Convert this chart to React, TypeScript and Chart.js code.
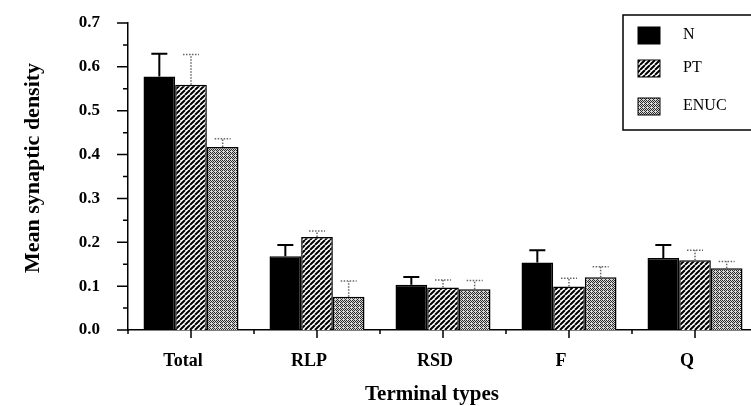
import React, { useEffect, useRef } from "react";
import { Chart, registerables } from "chart.js";

Chart.register(...registerables);

const categories = ["Total", "RLP", "RSD", "F", "Q"];
const seriesNames = ["N", "PT", "ENUC"];
const nValues = [0.578, 0.168, 0.103, 0.154, 0.164];
const nErrors = [0.052, 0.026, 0.018, 0.028, 0.030];
const ptValues = [0.559, 0.212, 0.097, 0.099, 0.159];
const ptErrors = [0.069, 0.014, 0.017, 0.019, 0.023];
const enucValues = [0.417, 0.076, 0.093, 0.120, 0.141];
const enucErrors = [0.019, 0.036, 0.020, 0.024, 0.015];
const yTickMax = 0.7;
const yTitle = "Mean synaptic density";
const xTitle = "Terminal types";

const SERIF = "'Liberation Serif', 'DejaVu Serif', 'Times New Roman', serif";

function makeHatch(): CanvasPattern | string {
  const c = document.createElement("canvas");
  const s = 5;
  c.width = s;
  c.height = s;
  const g = c.getContext("2d");
  if (!g) return "#777";
  g.fillStyle = "#fff";
  g.fillRect(0, 0, s, s);
  g.strokeStyle = "#000";
  g.lineWidth = 2;
  g.beginPath();
  for (let k = -1; k <= 1; k++) {
    g.moveTo(k * s, s);
    g.lineTo(k * s + s, 0);
  }
  g.stroke();
  const p = g.createPattern(c, "repeat");
  return p || "#777";
}

function makeStipple(): CanvasPattern | string {
  const c = document.createElement("canvas");
  c.width = 4;
  c.height = 4;
  const g = c.getContext("2d");
  if (!g) return "#999";
  g.fillStyle = "#d8d8d8";
  g.fillRect(0, 0, 4, 4);
  g.fillStyle = "#2a2a2a";
  const dots = [
    [0, 0], [2, 0], [1, 1], [3, 1], [0, 2], [2, 2], [1, 3],
  ];
  dots.forEach(([x, y]) => g.fillRect(x, y, 1, 1));
  const p = g.createPattern(c, "repeat");
  return p || "#999";
}

const errorBarPlugin = {
  id: "errorBars",
  afterDatasetsDraw(chart: any) {
    const ctx = chart.ctx;
    const yScale = chart.scales.y;
    chart.data.datasets.forEach((ds: any, i: number) => {
      const meta = chart.getDatasetMeta(i);
      meta.data.forEach((bar: any, j: number) => {
        const v = ds.data[j];
        const e = ds.errors[j];
        const yTop = yScale.getPixelForValue(v + e);
        const yBase = bar.y;
        ctx.save();
        if (i === 0) {
          ctx.strokeStyle = "#000";
          ctx.lineWidth = 2;
          ctx.setLineDash([]);
        } else {
          ctx.strokeStyle = "#666";
          ctx.lineWidth = 1.5;
          ctx.setLineDash([1.5, 1.5]);
        }
        ctx.beginPath();
        ctx.moveTo(bar.x, yBase);
        ctx.lineTo(bar.x, yTop);
        ctx.moveTo(bar.x - 8, yTop);
        ctx.lineTo(bar.x + 8, yTop);
        ctx.stroke();
        ctx.restore();
      });
    });
  },
};

const axisTicksPlugin = {
  id: "axisTicks",
  afterDraw(chart: any) {
    const ctx = chart.ctx;
    const x = chart.scales.x;
    const y = chart.scales.y;
    const area = chart.chartArea;
    ctx.save();
    ctx.strokeStyle = "#000";
    ctx.lineWidth = 1.5;
    ctx.beginPath();
    for (let k = 0; k <= Math.round(yTickMax / 0.05); k++) {
      const py = y.getPixelForValue(k * 0.05);
      const len = k % 2 === 0 ? 11 : 5;
      ctx.moveTo(area.left, py);
      ctx.lineTo(area.left - len, py);
    }
    const n = categories.length;
    for (let i = 0; i < n; i++) {
      const px = x.getPixelForValue(i);
      ctx.moveTo(px, area.bottom);
      ctx.lineTo(px, area.bottom + 8);
    }
    for (let i = 0; i <= n; i++) {
      const px = x.getPixelForValue(i - 0.5);
      ctx.moveTo(px, area.bottom);
      ctx.lineTo(px, area.bottom + 4);
    }
    ctx.stroke();

    // axis titles
    ctx.fillStyle = "#000";
    ctx.textAlign = "center";
    ctx.textBaseline = "alphabetic";
    ctx.font = "bold 21px " + SERIF;
    ctx.fillText(xTitle, 432, 400);
    ctx.save();
    ctx.translate(39, 168);
    ctx.rotate(-Math.PI / 2);
    ctx.font = "bold 22px " + SERIF;
    ctx.fillText(yTitle, 0, 0);
    ctx.restore();
    ctx.restore();
  },
};

const legendPlugin = {
  id: "boxLegend",
  afterDraw(chart: any) {
    const ctx = chart.ctx;
    const fills = chart.data.datasets.map((d: any) => d.backgroundColor);
    ctx.save();
    ctx.strokeStyle = "#000";
    ctx.lineWidth = 1.5;
    ctx.strokeRect(623, 15, 220, 115);
    const rows = [27, 60, 98];
    const texts = [35, 68, 106];
    seriesNames.forEach((name, i) => {
      ctx.fillStyle = fills[i];
      ctx.fillRect(638, rows[i], 22, 17);
      ctx.lineWidth = 1;
      ctx.strokeRect(638, rows[i], 22, 17);
      ctx.fillStyle = "#000";
      ctx.font = "16px " + SERIF;
      ctx.textBaseline = "middle";
      ctx.textAlign = "left";
      ctx.fillText(name, 683, texts[i]);
    });
    ctx.restore();
  },
};

export default function App() {
  const ref = useRef<HTMLCanvasElement | null>(null);
  useEffect(() => {
    if (!ref.current) return;
    const hatch = makeHatch();
    const stipple = makeStipple();
    const chart = new Chart(ref.current, {
      type: "bar",
      data: {
        labels: categories,
        datasets: [
          { label: seriesNames[0], data: nValues, errors: nErrors, backgroundColor: "#000", borderColor: "#000", borderWidth: 1.5 } as any,
          { label: seriesNames[1], data: ptValues, errors: ptErrors, backgroundColor: hatch, borderColor: "#000", borderWidth: 1.5 } as any,
          { label: seriesNames[2], data: enucValues, errors: enucErrors, backgroundColor: stipple, borderColor: "#000", borderWidth: 1.5 } as any,
        ],
      },
      options: {
        animation: false,
        responsive: false,
        devicePixelRatio: 1,
        layout: { padding: { top: 23, left: 0, right: 2, bottom: 0 }, autoPadding: false },
        plugins: { legend: { display: false }, tooltip: { enabled: false }, title: { display: false } },
        datasets: { bar: { categoryPercentage: 0.754, barPercentage: 1.0 } },
        scales: {
          x: {
            type: "category",
            offset: true,
            grid: { display: false, drawTicks: false },
            border: { display: true, color: "#000", width: 1.5 },
            ticks: {
              color: "#000",
              padding: 21,
              labelOffset: -8,
              font: { family: SERIF, size: 18, weight: "bold" },
              maxRotation: 0,
            },
            title: { display: false },
            afterFit(scale: any) {
              scale.height = 76;
              scale.paddingLeft = 0;
              scale.paddingRight = 0;
            },
          },
          y: {
            min: 0,
            max: yTickMax,
            grid: { display: false, drawTicks: false },
            border: { display: true, color: "#000", width: 1.5 },
            ticks: {
              stepSize: 0.1,
              color: "#000",
              padding: 28,
              font: { family: SERIF, size: 17, weight: "bold" },
              callback: (v: any) => Number(v).toFixed(1),
            },
            title: { display: false },
            afterFit(scale: any) {
              scale.width = 128;
              scale.paddingTop = 0;
              scale.paddingBottom = 0;
            },
          },
        },
      } as any,
      plugins: [errorBarPlugin, axisTicksPlugin, legendPlugin],
    });
    return () => chart.destroy();
  }, []);
  return (
    <div style={{ position: "fixed", left: 0, top: 0, width: 751, height: 406, overflow: "hidden", background: "#fff" }}>
      <canvas ref={ref} width={760} height={406} style={{ width: 760, height: 406, display: "block" }} />
    </div>
  );
}
